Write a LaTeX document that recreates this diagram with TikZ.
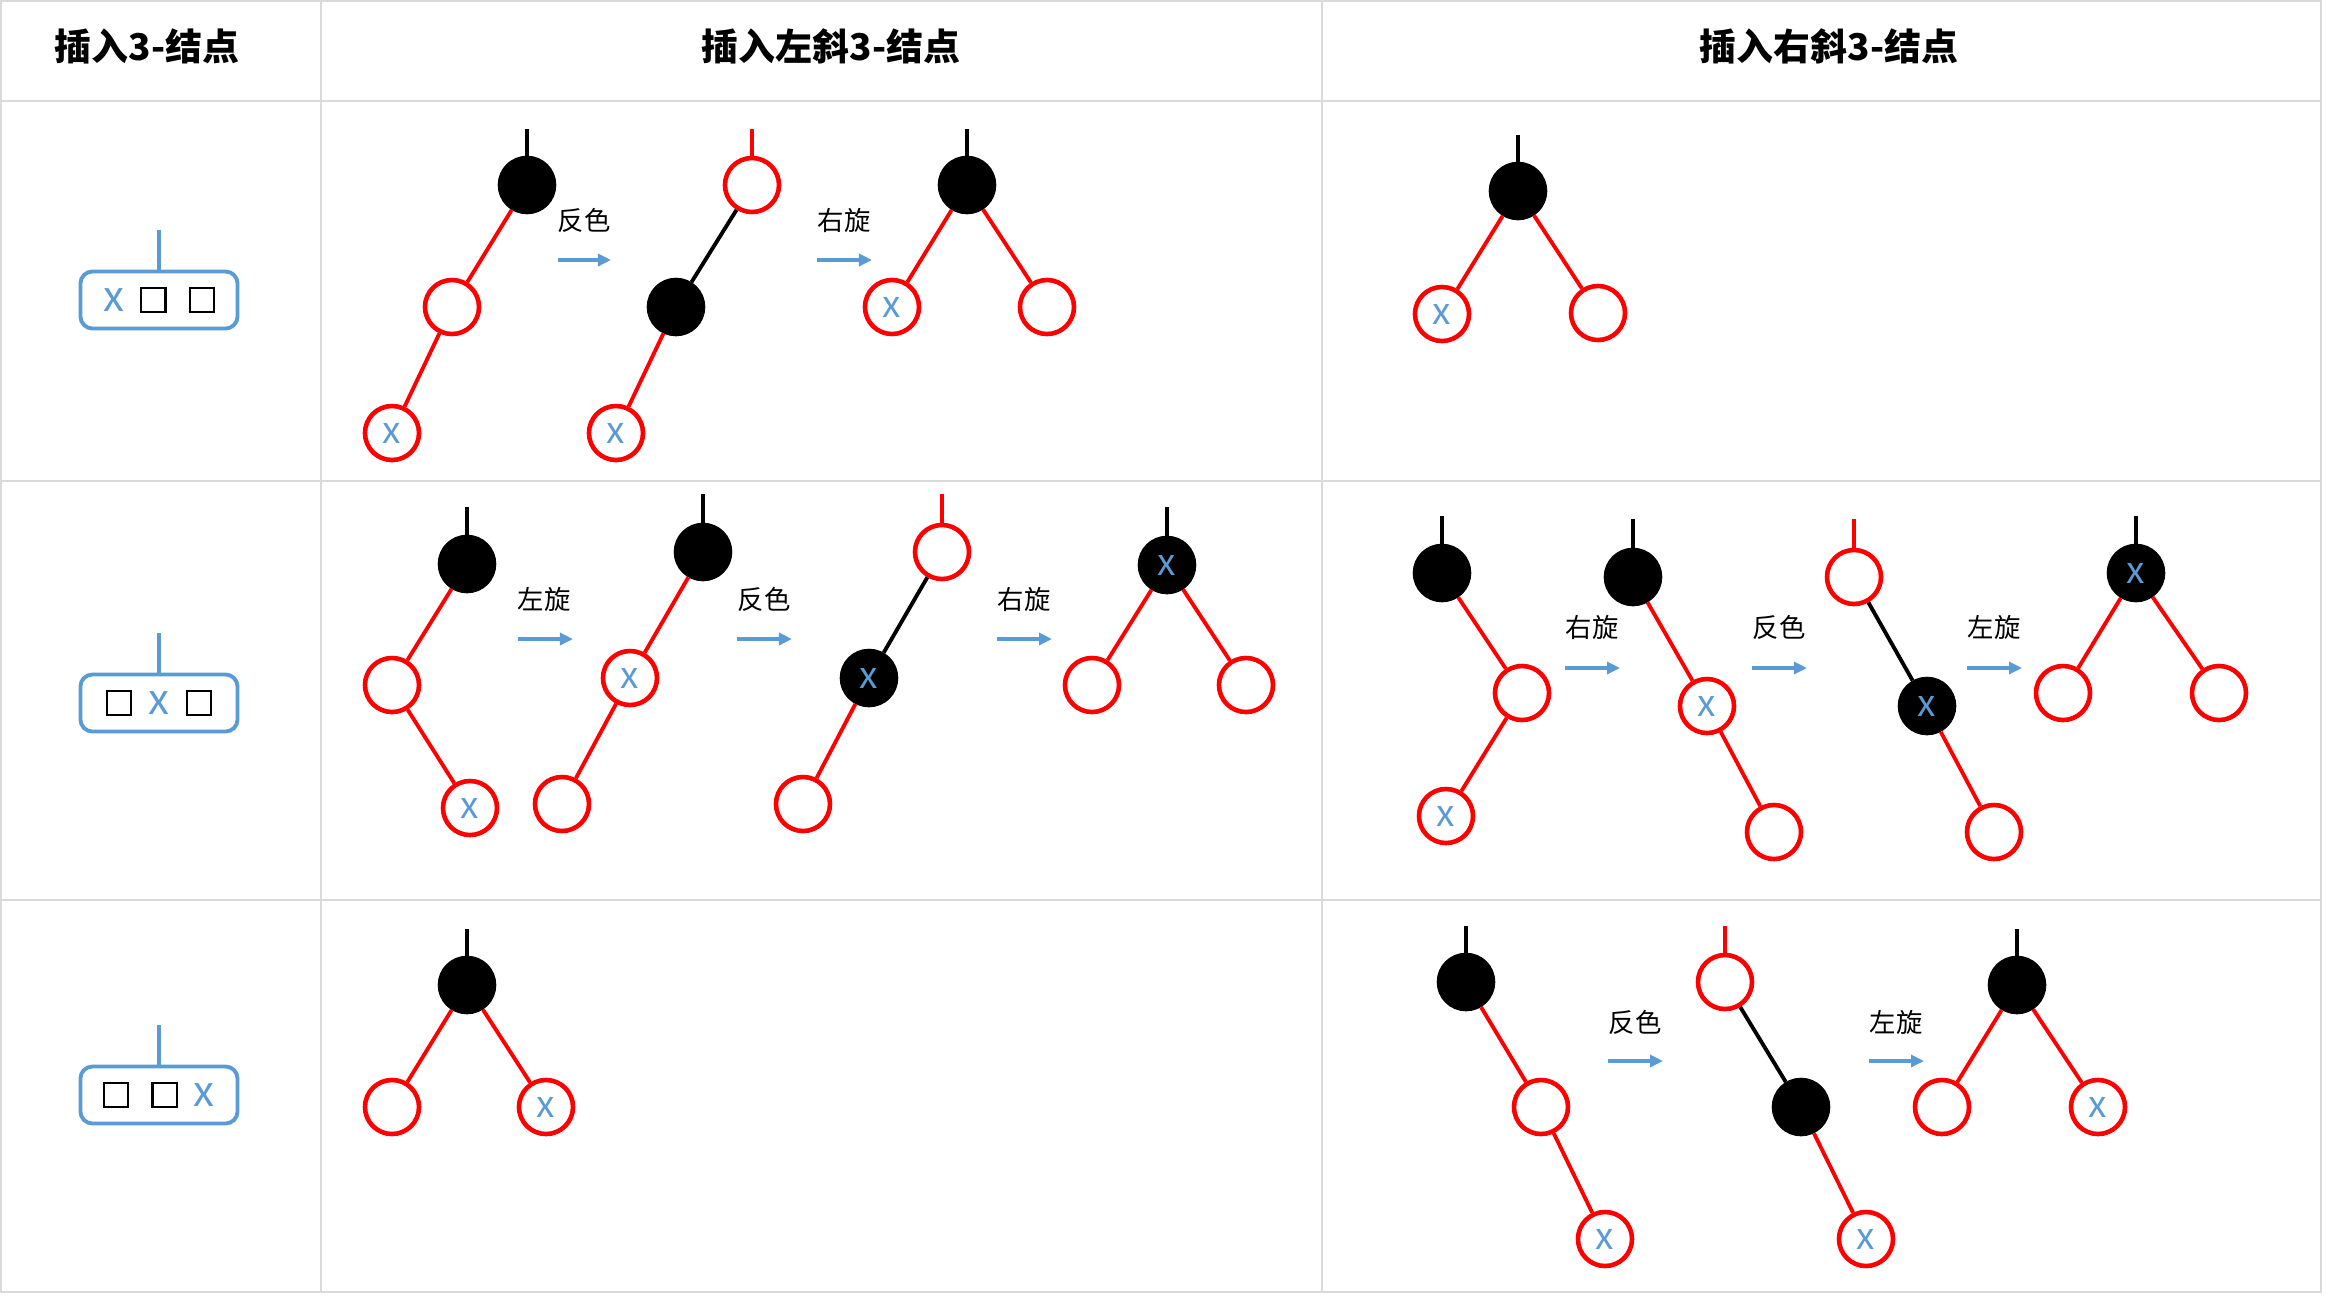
\documentclass[tikz,border=0pt]{standalone}
\usepackage{fontspec}
\setmainfont{Noto Sans CJK SC}
\usepackage{tikz}
\usetikzlibrary{arrows.meta,positioning}
\definecolor{xblue}{RGB}{91,155,213}
\definecolor{gridgray}{RGB}{218,218,218}
\newcommand{\sq}{{\setlength{\fboxsep}{0pt}\setlength{\fboxrule}{0.6pt}\fbox{\rule{0pt}{0.22cm}\rule{0.22cm}{0pt}}}}
\newcommand{\xx}{\textcolor{xblue}{x}}
\tikzset{
    rnode/.style={draw=red, circle, line width=1.3pt, fill=white, minimum size=0.54cm, inner sep=0pt, text=xblue, font=\fontsize{10.5}{11}\selectfont},
    bnode/.style={rnode, draw=black, fill=black},
    redge/.style={red, line width=1.1pt},
    bedge/.style={black, line width=1.1pt},
    turn/.style={-{Triangle[length=1.3mm, width=1.2mm]}, line width=1.2pt, xblue},
    oplabel/.style={font=\fontsize{7.5}{8}\selectfont},
    head/.style={font=\bfseries\fontsize{10.5}{12}\selectfont},
    keybox/.style={draw=xblue, rounded corners=0.12cm, line width=1.1pt, minimum width=1.57cm, minimum height=0.57cm, inner sep=0pt, font=\fontsize{12}{12}\selectfont},
    gline/.style={gridgray, line width=0.7pt}
}

\begin{document}
\begin{tikzpicture}[x=0.01cm, y=-0.01cm]
\useasboundingbox (0,0) rectangle (2326,1296);

% table
\draw[gline] (1,1) rectangle (2321,1292);
\draw[gline] (0,101) -- (2321,101);
\draw[gline] (0,481) -- (2321,481);
\draw[gline] (0,900) -- (2321,900);
\draw[gline] (321,1) -- (321,1292);
\draw[gline] (1322,1) -- (1322,1292);

\node[head] (h1) at (147,46) {插入3-结点};
\node[head] (h2) at (831,46) {插入左斜3-结点};
\node[head] (h3) at (1829,46) {插入右斜3-结点};

% 3-nodes
\node[keybox] (box1) at (159,300) {\xx\hspace{0.16cm}\sq\hspace{0.22cm}\sq};
\node[keybox] (box2) at (159,703) {\sq\hspace{0.16cm}\xx\hspace{0.16cm}\sq};
\node[keybox] (box3) at (159,1095) {\sq\hspace{0.22cm}\sq\hspace{0.16cm}\xx};
\coordinate (k1) at (159,230);
\coordinate (k2) at (159,633);
\coordinate (k3) at (159,1025);
\draw[xblue, line width=1.1pt] (box1) -- (k1);
\draw[xblue, line width=1.1pt] (box2) -- (k2);
\draw[xblue, line width=1.1pt] (box3) -- (k3);

% row 1, left leaning
\node[bnode] (a1) at (527,185) {};
\node[rnode] (a2) at (452,307) {};
\node[rnode] (a3) at (392,433) {x};
\coordinate (a0) at (527,129);
\draw[bedge] (a0) -- (a1);
\draw[redge] (a1) -- (a2);
\draw[redge] (a2) -- (a3);

\node[oplabel] (op1) at (584,220) {反色};
\coordinate (t1a) at (558,260);
\coordinate (t1b) at (611,260);
\draw[turn] (t1a) -- (t1b);

\node[rnode] (b1) at (752,185) {};
\node[bnode] (b2) at (676,307) {};
\node[rnode] (b3) at (616,433) {x};
\coordinate (b0) at (752,129);
\draw[redge] (b0) -- (b1);
\draw[bedge] (b1) -- (b2);
\draw[redge] (b2) -- (b3);

\node[oplabel] (op2) at (844,220) {右旋};
\coordinate (t2a) at (817,260);
\coordinate (t2b) at (872,260);
\draw[turn] (t2a) -- (t2b);

\node[bnode] (c1) at (967,185) {};
\node[rnode] (c2) at (892,307) {x};
\node[rnode] (c3) at (1047,307) {};
\coordinate (c0) at (967,129);
\draw[bedge] (c0) -- (c1);
\draw[redge] (c1) -- (c2);
\draw[redge] (c1) -- (c3);

% row 1, right leaning
\node[bnode] (d1) at (1518,191) {};
\node[rnode] (d2) at (1442,314) {x};
\node[rnode] (d3) at (1598,313) {};
\coordinate (d0) at (1518,135);
\draw[bedge] (d0) -- (d1);
\draw[redge] (d1) -- (d2);
\draw[redge] (d1) -- (d3);

% row 2, left leaning
\node[bnode] (e1) at (467,564) {};
\node[rnode] (e2) at (392,685) {};
\node[rnode] (e3) at (470,808) {x};
\coordinate (e0) at (467,507);
\draw[bedge] (e0) -- (e1);
\draw[redge] (e1) -- (e2);
\draw[redge] (e2) -- (e3);

\node[oplabel] (op3) at (544,599) {左旋};
\coordinate (t3a) at (518,639);
\coordinate (t3b) at (573,639);
\draw[turn] (t3a) -- (t3b);

\node[bnode] (f1) at (703,552) {};
\node[rnode] (f2) at (630,678) {x};
\node[rnode] (f3) at (562,804) {};
\coordinate (f0) at (703,494);
\draw[bedge] (f0) -- (f1);
\draw[redge] (f1) -- (f2);
\draw[redge] (f2) -- (f3);

\node[oplabel] (op4) at (764,599) {反色};
\coordinate (t4a) at (737,639);
\coordinate (t4b) at (792,639);
\draw[turn] (t4a) -- (t4b);

\node[rnode] (g1) at (942,552) {};
\node[bnode] (g2) at (869,678) {x};
\node[rnode] (g3) at (803,804) {};
\coordinate (g0) at (942,494);
\draw[redge] (g0) -- (g1);
\draw[bedge] (g1) -- (g2);
\draw[redge] (g2) -- (g3);

\node[oplabel] (op5) at (1024,599) {右旋};
\coordinate (t5a) at (997,639);
\coordinate (t5b) at (1052,639);
\draw[turn] (t5a) -- (t5b);

\node[bnode] (m1) at (1167,565) {x};
\node[rnode] (m2) at (1092,685) {};
\node[rnode] (m3) at (1246,685) {};
\coordinate (m0) at (1167,507);
\draw[bedge] (m0) -- (m1);
\draw[redge] (m1) -- (m2);
\draw[redge] (m1) -- (m3);

% row 2, right leaning
\node[bnode] (p1) at (1442,573) {};
\node[rnode] (p2) at (1522,693) {};
\node[rnode] (p3) at (1446,816) {x};
\coordinate (p0) at (1442,516);
\draw[bedge] (p0) -- (p1);
\draw[redge] (p1) -- (p2);
\draw[redge] (p2) -- (p3);

\node[oplabel] (op6) at (1592,627) {右旋};
\coordinate (t6a) at (1565,668);
\coordinate (t6b) at (1620,668);
\draw[turn] (t6a) -- (t6b);

\node[bnode] (q1) at (1633,577) {};
\node[rnode] (q2) at (1707,706) {x};
\node[rnode] (q3) at (1774,832) {};
\coordinate (q0) at (1633,519);
\draw[bedge] (q0) -- (q1);
\draw[redge] (q1) -- (q2);
\draw[redge] (q2) -- (q3);

\node[oplabel] (op7) at (1779,627) {反色};
\coordinate (t7a) at (1752,668);
\coordinate (t7b) at (1807,668);
\draw[turn] (t7a) -- (t7b);

\node[rnode] (r1) at (1854,577) {};
\node[bnode] (r2) at (1927,706) {x};
\node[rnode] (r3) at (1994,832) {};
\coordinate (r0) at (1854,519);
\draw[redge] (r0) -- (r1);
\draw[bedge] (r1) -- (r2);
\draw[redge] (r2) -- (r3);

\node[oplabel] (op8) at (1994,627) {左旋};
\coordinate (t8a) at (1967,668);
\coordinate (t8b) at (2022,668);
\draw[turn] (t8a) -- (t8b);

\node[bnode] (s1) at (2136,573) {x};
\node[rnode] (s2) at (2063,693) {};
\node[rnode] (s3) at (2219,693) {};
\coordinate (s0) at (2136,516);
\draw[bedge] (s0) -- (s1);
\draw[redge] (s1) -- (s2);
\draw[redge] (s1) -- (s3);

% row 3, left leaning
\node[bnode] (u1) at (467,985) {};
\node[rnode] (u2) at (392,1107) {};
\node[rnode] (u3) at (546,1107) {x};
\coordinate (u0) at (467,929);
\draw[bedge] (u0) -- (u1);
\draw[redge] (u1) -- (u2);
\draw[redge] (u1) -- (u3);

% row 3, right leaning
\node[bnode] (v1) at (1466,982) {};
\node[rnode] (v2) at (1541,1107) {};
\node[rnode] (v3) at (1605,1239) {x};
\coordinate (v0) at (1466,926);
\draw[bedge] (v0) -- (v1);
\draw[redge] (v1) -- (v2);
\draw[redge] (v2) -- (v3);

\node[oplabel] (op9) at (1635,1022) {反色};
\coordinate (t9a) at (1608,1061);
\coordinate (t9b) at (1663,1061);
\draw[turn] (t9a) -- (t9b);

\node[rnode] (w1) at (1725,982) {};
\node[bnode] (w2) at (1801,1107) {};
\node[rnode] (w3) at (1866,1239) {x};
\coordinate (w0) at (1725,926);
\draw[redge] (w0) -- (w1);
\draw[bedge] (w1) -- (w2);
\draw[redge] (w2) -- (w3);

\node[oplabel] (op10) at (1896,1022) {左旋};
\coordinate (t10a) at (1869,1061);
\coordinate (t10b) at (1924,1061);
\draw[turn] (t10a) -- (t10b);

\node[bnode] (z1) at (2017,985) {};
\node[rnode] (z2) at (1942,1107) {};
\node[rnode] (z3) at (2098,1107) {x};
\coordinate (z0) at (2017,929);
\draw[bedge] (z0) -- (z1);
\draw[redge] (z1) -- (z2);
\draw[redge] (z1) -- (z3);
\end{tikzpicture}
\end{document}
